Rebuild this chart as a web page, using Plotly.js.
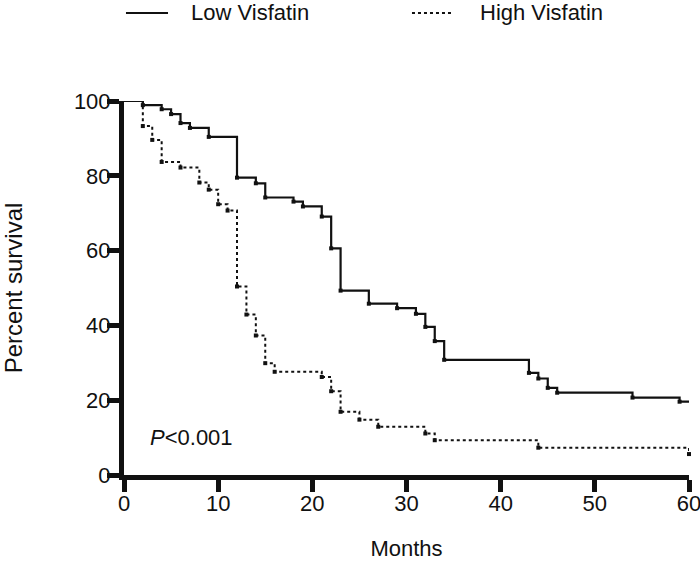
<!DOCTYPE html>
<html>
<head>
<meta charset="utf-8">
<script src="https://cdn.plot.ly/plotly-3.0.1.min.js"></script>
<style>html,body{margin:0;padding:0;background:#fff;}#chart{width:700px;height:561px;}</style>
</head>
<body>
<div id="chart"></div>
<script>
// Kaplan-Meier event times (months) and survival (%) after each step
var lowMonths  = [2, 4, 5, 6, 7, 9, 12, 14, 15, 18, 19, 21, 22, 23, 26, 29, 31, 32, 33, 34, 43, 44, 45, 46, 54, 59];
var lowSurv    = [98.9, 97.8, 96.5, 94.1, 92.8, 90.4, 79.5, 78.0, 74.2, 73.1, 71.8, 69.1, 60.6, 49.3, 45.8, 44.6, 43.1, 39.6, 35.8, 30.8, 27.3, 25.8, 23.3, 22.0, 20.7, 19.6];
var highMonths = [2, 3, 4, 6, 8, 9, 10, 11, 12, 13, 14, 15, 16, 21, 22, 23, 25, 27, 32, 33, 44, 60];
var highSurv   = [93.3, 89.6, 83.7, 82.2, 78.2, 76.3, 72.4, 70.7, 50.4, 42.9, 37.3, 29.9, 27.6, 26.2, 22.4, 16.9, 14.8, 12.9, 11.1, 9.3, 7.3, 5.6];
var seriesNames = ['Low Visfatin', 'High Visfatin'];
var xTicks = [0, 10, 20, 30, 40, 50, 60];
var yTicks = [0, 20, 40, 60, 80, 100];
var maxMonth = 60;

function stepData(months, surv) {
  var x = [0].concat(months);
  var y = [100].concat(surv);
  if (months[months.length - 1] < maxMonth) { x.push(maxMonth); y.push(surv[surv.length - 1]); }
  return {x: x, y: y};
}

var FONT = 'Arial, "Liberation Sans", Helvetica, sans-serif';
var INK = '#111';
var lowStep = stepData(lowMonths, lowSurv);
var highStep = stepData(highMonths, highSurv);
var lineStyles = [{color: INK, width: 2.2, dash: 'solid'}, {color: INK, width: 2, dash: 'dot'}];

var traces = [
  {x: lowStep.x, y: lowStep.y, mode: 'lines', line: Object.assign({shape: 'hv'}, lineStyles[0]), name: seriesNames[0], cliponaxis: false},
  {x: highStep.x, y: highStep.y, mode: 'lines', line: Object.assign({shape: 'hv'}, lineStyles[1]), name: seriesNames[1], cliponaxis: false},
  {x: lowMonths, y: lowSurv, mode: 'markers', marker: {symbol: 'square', size: 4, color: INK}, name: seriesNames[0], showlegend: false, hoverinfo: 'skip', cliponaxis: false},
  {x: highMonths, y: highSurv, mode: 'markers', marker: {symbol: 'square', size: 4, color: INK}, name: seriesNames[1], showlegend: false, hoverinfo: 'skip', cliponaxis: false}
];

// legend drawn as paper-referenced shapes + text (positions in paper units)
var legendY = 1.2353;
var legendItems = [
  {x0: 0.0035, x1: 0.0779, tx: 0.1150},
  {x0: 0.5097, x1: 0.5823, tx: 0.6265}
];
var shapes = legendItems.map(function (it, i) {
  return {type: 'line', xref: 'paper', yref: 'paper', x0: it.x0, x1: it.x1, y0: legendY, y1: legendY,
          line: {color: lineStyles[i].color, width: lineStyles[i].width, dash: lineStyles[i].dash}};
});
var annotations = legendItems.map(function (it, i) {
  return {xref: 'paper', yref: 'paper', x: it.tx, y: legendY, xanchor: 'left', yanchor: 'middle',
          text: seriesNames[i], showarrow: false, font: {family: FONT, size: 22, color: INK}};
});
annotations.push({
  xref: 'x', yref: 'y', x: 2.6, y: 10, xanchor: 'left', yanchor: 'middle',
  text: '<i>P</i>&lt;0.001', showarrow: false,
  font: {family: FONT, size: 22, color: INK}
});

var layout = {
  width: 700, height: 561,
  margin: {l: 124, r: 11, t: 101, b: 86, pad: 0},
  paper_bgcolor: '#fff', plot_bgcolor: '#fff',
  font: {family: FONT, size: 22, color: INK},
  showlegend: false,
  xaxis: {
    range: [0, maxMonth], tickvals: xTicks, ticktext: xTicks.map(String),
    showgrid: false, zeroline: false, showline: true, linecolor: INK, linewidth: 5,
    ticks: 'outside', ticklen: 12, tickwidth: 5, tickcolor: INK,
    tickfont: {family: FONT, size: 22, color: INK},
    ticklabeloverflow: 'allow', ticklabelstandoff: -7,
    title: {text: 'Months', font: {family: FONT, size: 22, color: INK}, standoff: 27},
    automargin: false, fixedrange: true
  },
  yaxis: {
    range: [0, 100], tickvals: yTicks, ticktext: yTicks.map(String),
    showgrid: false, zeroline: false, showline: true, linecolor: INK, linewidth: 5,
    ticks: 'outside', ticklen: 12, tickwidth: 5, tickcolor: INK,
    tickfont: {family: FONT, size: 22, color: INK},
    ticklabeloverflow: 'allow', ticklabelstandoff: -8,
    title: {text: 'Percent survival', font: {family: FONT, size: 24, color: INK}, standoff: 48},
    automargin: false, fixedrange: true
  },
  shapes: shapes,
  annotations: annotations
};

Plotly.newPlot('chart', traces, layout, {displayModeBar: false, staticPlot: true});
</script>
</body>
</html>
